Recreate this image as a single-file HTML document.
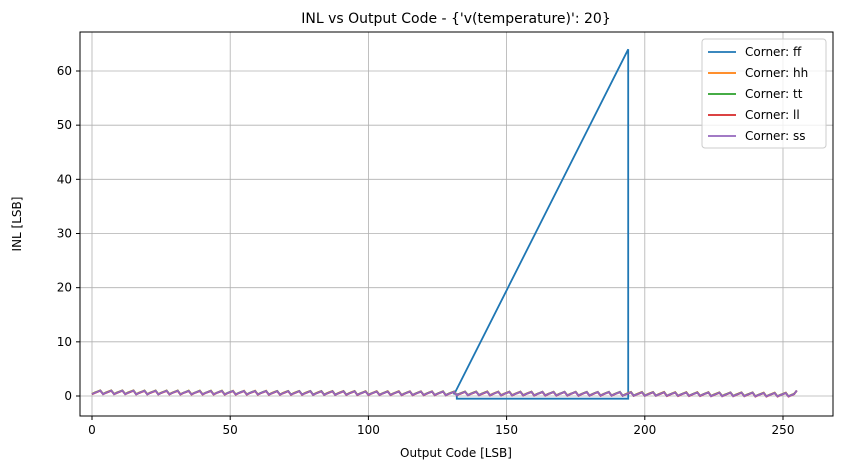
<!DOCTYPE html>
<html><head><meta charset="utf-8"><style>
body{margin:0;background:#fff;}
svg text{font-family:"DejaVu Sans","Liberation Sans",sans-serif;}
</style></head><body>
<svg id="chart" width="841" height="470" xmlns="http://www.w3.org/2000/svg">
<rect width="841" height="470" fill="#fff"/>
<text x="456" y="23" font-size="14" text-anchor="middle">INL vs Output Code - {'v(temperature)': 20}</text>
<g id="grid"></g>
<g id="series"></g>
<rect x="80" y="32" width="753" height="384" fill="none" stroke="#000" stroke-width="1"/>
<g id="ticks"></g>
<text x="456" y="457" font-size="12" text-anchor="middle">Output Code [LSB]</text>
<text transform="translate(21,224) rotate(-90)" font-size="12" text-anchor="middle">INL [LSB]</text>
<g id="legend"></g>
</svg>
<script>
const xTicks=[0,50,100,150,200,250];
const yTicks=[0,10,20,30,40,50,60];
const seriesNames=["ff","hh","tt","ll","ss"];
const seriesColors=["#1f77b4","#ff7f0e","#2ca02c","#d62728","#9467bd"];
// tooth shape within each 4-code period
const toothShape=[0.2,0.45,0.65,0.85];
// per 16-code block baseline drift
const blockDrift=[0.15,0.12,0.1,0.08,0.05,0.03,0.0,-0.02,-0.05,-0.08,-0.1,-0.12,-0.15,-0.18,-0.22,-0.28];
// per-series small offsets
const seriesOffset=[0,0.05,0.02,-0.04,0];
const lastCodeValue=1.0;
// ff anomaly path
const ffAnomalyX=[131,194,194,132,132];
const ffAnomalyY=[0.3,64,-0.5,-0.5,0.3];

const X=v=>92+v*(783-92)/250;
const Y=v=>396-v*(396-71)/60;
const NS="http://www.w3.org/2000/svg";
function mk(tag,parent){const e=document.createElementNS(NS,tag);parent.appendChild(e);return e;}
const grid=document.getElementById('grid'),ticks=document.getElementById('ticks');
xTicks.forEach(t=>{
 const l=mk('line',grid);l.setAttribute('x1',X(t));l.setAttribute('x2',X(t));l.setAttribute('y1',32);l.setAttribute('y2',416);l.setAttribute('stroke','#b0b0b0');l.setAttribute('stroke-width','0.8');
 
 
 const tk=mk('line',ticks);tk.setAttribute('x1',X(t));tk.setAttribute('x2',X(t));tk.setAttribute('y1',416);tk.setAttribute('y2',420);tk.setAttribute('stroke','#000');
 
 
 const tx=mk('text',ticks);tx.textContent=t;tx.setAttribute('x',X(t));tx.setAttribute('y',434);tx.setAttribute('font-size','12');tx.setAttribute('text-anchor','middle');
 
 
});
yTicks.forEach(t=>{
 const l=mk('line',grid);l.setAttribute('y1',Y(t));l.setAttribute('y2',Y(t));l.setAttribute('x1',80);l.setAttribute('x2',833);l.setAttribute('stroke','#b0b0b0');l.setAttribute('stroke-width','0.8');
 
 
 const tk=mk('line',ticks);tk.setAttribute('y1',Y(t));tk.setAttribute('y2',Y(t));tk.setAttribute('x1',76);tk.setAttribute('x2',80);tk.setAttribute('stroke','#000');
 
 
 const tx=mk('text',ticks);tx.textContent=t;tx.setAttribute('x',72);tx.setAttribute('y',Y(t)+4);tx.setAttribute('font-size','12');tx.setAttribute('text-anchor','end');
 
 
});
function seriesPts(si){
 const p=[];
 for(let c=0;c<256;c++){
  let v=c===255?lastCodeValue:toothShape[c%4]+blockDrift[Math.floor(c/16)]+seriesOffset[si];
  p.push([c,v]);
 }
 return p;
}
const sg=document.getElementById('series');
const order=[0,1,2,3,4];
order.forEach(si=>{
 let pts=seriesPts(si);
 if(si===0){
  pts=pts.slice(0,132).concat(ffAnomalyX.map((x,i)=>[x,ffAnomalyY[i]])).concat(pts.slice(133));
 }
 const pl=mk('polyline',sg);
 pl.setAttribute('points',pts.map(p=>X(p[0]).toFixed(1)+','+Y(p[1]).toFixed(1)).join(' '));
 pl.setAttribute('fill','none');pl.setAttribute('stroke',seriesColors[si]);pl.setAttribute('stroke-width','1.8');
 
 
});
const lg=document.getElementById('legend');
const box=mk('rect',lg);box.setAttribute('x',702);box.setAttribute('y',39);box.setAttribute('width',124);box.setAttribute('height',109);box.setAttribute('rx',3);box.setAttribute('fill','#fff');box.setAttribute('fill-opacity','0.8');box.setAttribute('stroke','#ccc');


seriesNames.forEach((n,i)=>{
 const y=52+i*21;
 const l=mk('line',lg);l.setAttribute('x1',708);l.setAttribute('x2',736);l.setAttribute('y1',y);l.setAttribute('y2',y);l.setAttribute('stroke',seriesColors[i]);l.setAttribute('stroke-width','1.8');
 
 
 const t=mk('text',lg);t.textContent='Corner: '+n;t.setAttribute('x',745);t.setAttribute('y',y+4);t.setAttribute('font-size','12');
 
 
});
</script>
</body></html>
